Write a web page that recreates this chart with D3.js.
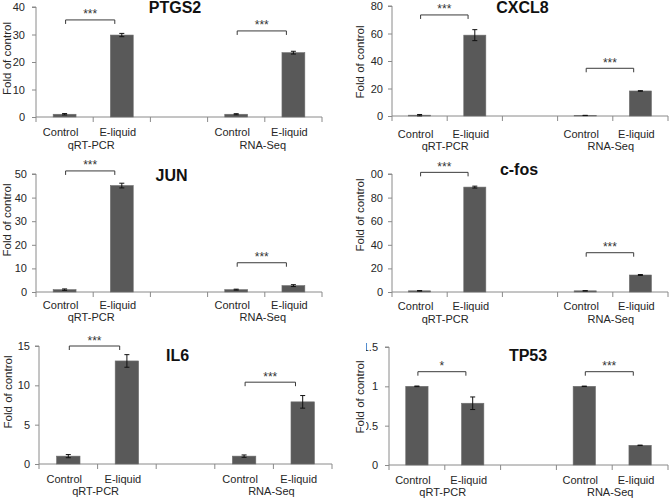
<!DOCTYPE html>
<html>
<head>
<meta charset="utf-8">
<script src="https://cdn.jsdelivr.net/npm/d3@7"></script>
<style>
  html, body { margin: 0; padding: 0; background: #fff; }
  svg { display: block; font-family: "Liberation Sans", Arial, sans-serif; }
</style>
</head>
<body>
<svg id="chart" width="670" height="504"></svg>
<script>
// ---------- data ----------
const genes = ["PTGS2", "CXCL8", "JUN", "c-fos", "IL6", "TP53"];
const conditions = ["Control", "E-liquid"];
const methods = ["qRT-PCR", "RNA-Seq"];
// values per gene: [qRT Control, qRT E-liquid, RNA Control, RNA E-liquid]
const ptgs2Values = [1.0, 29.8, 1.0, 23.4];
const cxcl8Values = [0.6, 58.8, 0.4, 18.2];
const junValues   = [1.0, 45.1, 1.0, 2.7];
const cfosValues  = [1.0, 88.9, 1.0, 14.4];
const il6Values   = [1.0, 13.1, 1.0, 7.9];
const tp53Values  = [1.0, 0.785, 1.0, 0.25];
const ptgs2Errors = [0.25, 0.6, 0.2, 0.5];
const cxcl8Errors = [0.5, 4.0, 0.1, 0.2];
const junErrors   = [0.3, 1.0, 0.2, 0.4];
const cfosErrors  = [0.2, 0.8, 0.1, 0.4];
const il6Errors   = [0.2, 0.8, 0.15, 0.8];
const tp53Errors  = [0.004, 0.08, 0.003, 0.003];
const yMaxValues  = [40, 80, 50, 100, 15, 1.5];
const yTickSteps  = [10, 20, 10, 20, 5, 0.5];
const sigLabels   = [["***", "***"], ["***", "***"], ["***", "***"], ["***", "***"], ["***", "***"], ["*", "***"]];
const sigLevels   = [[35.3, 31.3], [73.5, 34.7], [51.3, 12.4], [101.4, 33.3], [15.0, 10.4], [1.186, 1.186]];

const allValues = [ptgs2Values, cxcl8Values, junValues, cfosValues, il6Values, tp53Values];
const allErrors = [ptgs2Errors, cxcl8Errors, junErrors, cfosErrors, il6Errors, tp53Errors];

// ---------- layout ----------
const layout = [
  {x0: 36,  x1: 322, y0: 117, y1: 7,   tx: 175,   ty: 12.5,  lx: 7,   ly: 58.5, catY: 136, grpY: 149, gap: 11, clipX: null},
  {x0: 392, x1: 668, y0: 116, y1: 6,   tx: 522.5, ty: 13,    lx: 360, ly: 62,   catY: 138, grpY: 150, gap: 9,  clipX: null},
  {x0: 36,  x1: 322, y0: 292, y1: 174, tx: 171.5, ty: 181,   lx: 7,   ly: 220,  catY: 309, grpY: 321, gap: 9,  clipX: null},
  {x0: 392, x1: 668, y0: 292, y1: 174, tx: 519,   ty: 175,   lx: 360, ly: 215,  catY: 310, grpY: 323, gap: 9,  clipX: 370.5},
  {x0: 39,  x1: 332, y0: 464, y1: 346, tx: 177.5, ty: 360.7, lx: 8,   ly: 392,  catY: 483, grpY: 495, gap: 9,  clipX: null},
  {x0: 389, x1: 668, y0: 465, y1: 347, tx: 528,   ty: 360.7, lx: 360, ly: 397,  catY: 484, grpY: 496, gap: 11, clipX: 366}
];

const axisColor = "#8a8a8a";
const barColor = "#595959";
const textColor = "#262626";

const svg = d3.select("#chart");
const defs = svg.append("defs");

const slotKeys = ["qC", "qE", "gap", "rC", "rE"];
const barSlots = ["qC", "qE", "rC", "rE"];

genes.forEach((gene, gi) => {
  const L = layout[gi];
  const g = svg.append("g");
  const x = d3.scaleBand().domain(slotKeys).range([L.x0, L.x1]).padding(0);
  const bw = x.bandwidth();
  const y = d3.scaleLinear().domain([0, yMaxValues[gi]]).range([L.y0, L.y1]);
  const ticks = d3.range(0, yMaxValues[gi] + yTickSteps[gi] / 2, yTickSteps[gi]);

  // y axis
  const yAxis = d3.axisLeft(y).tickValues(ticks).tickSize(4).tickPadding(L.gap - 4)
    .tickFormat(d => d3.format("~g")(d));
  const ya = g.append("g").attr("transform", `translate(${L.x0},0)`).call(yAxis);
  ya.select(".domain").attr("stroke", axisColor).attr("d", `M-4,${L.y1}H0V${L.y0}`);
  ya.selectAll(".tick line").attr("stroke", axisColor);
  ya.selectAll(".tick text").attr("fill", textColor).style("font-size", "11px")
    .style("font-family", "'Liberation Sans', Arial, sans-serif");
  if (L.clipX !== null) {
    const id = "clip" + gi;
    defs.append("clipPath").attr("id", id).attr("clipPathUnits", "userSpaceOnUse").append("rect")
      .attr("x", L.clipX - L.x0).attr("y", L.y1 - 20).attr("width", 60).attr("height", L.y0 - L.y1 + 40);
    ya.attr("clip-path", `url(#${id})`);
  }

  // x axis line + boundary ticks
  g.append("line").attr("x1", L.x0).attr("x2", L.x1).attr("y1", L.y0).attr("y2", L.y0)
    .attr("stroke", axisColor).attr("stroke-width", 1);
  g.selectAll(".xt").data(d3.range(0, slotKeys.length + 1)).join("line")
    .attr("x1", i => L.x0 + i * bw).attr("x2", i => L.x0 + i * bw)
    .attr("y1", L.y0).attr("y2", L.y0 + 5)
    .attr("stroke", axisColor);

  // bars
  const vals = allValues[gi], errs = allErrors[gi];
  const barW = bw * 0.4;
  g.selectAll(".bar").data(barSlots).join("rect")
    .attr("x", (s) => x(s) + (bw - barW) / 2)
    .attr("width", barW)
    .attr("y", (s, i) => y(vals[i]))
    .attr("height", (s, i) => L.y0 - y(vals[i]))
    .attr("fill", barColor)
    .attr("stroke", "#6e6e6e").attr("stroke-width", 0.6);

  // error bars
  const eg = g.append("g").attr("stroke", "#111").attr("stroke-width", 1);
  barSlots.forEach((s, i) => {
    const cx = x(s) + bw / 2;
    const lo = y(vals[i] - errs[i]), hi = y(vals[i] + errs[i]);
    eg.append("line").attr("x1", cx).attr("x2", cx).attr("y1", lo).attr("y2", hi);
    eg.append("line").attr("x1", cx - 2.5).attr("x2", cx + 2.5).attr("y1", hi).attr("y2", hi);
    eg.append("line").attr("x1", cx - 2.5).attr("x2", cx + 2.5).attr("y1", lo).attr("y2", lo);
  });

  // category labels
  barSlots.forEach((s, i) => {
    g.append("text").attr("x", x(s) + bw / 2 - 4).attr("y", L.catY)
      .attr("text-anchor", "middle").attr("fill", textColor).style("font-size", "11px")
      .text(conditions[i % 2]);
  });
  methods.forEach((m, mi) => {
    const cx = mi === 0 ? x("qE") : x("rE");
    g.append("text").attr("x", cx - 2).attr("y", L.grpY)
      .attr("text-anchor", "middle").attr("fill", textColor).style("font-size", "11px")
      .text(m);
  });

  // significance brackets
  [["qC"], ["rC"]].forEach((arr, bi) => {
    const sx = x(arr[0]) + bw / 2 + 1;
    const ex = sx + bw * 0.86;
    const by = y(sigLevels[gi][bi]);
    g.append("path")
      .attr("d", `M${sx},${by + 4}V${by}H${ex}V${by + 4}`)
      .attr("fill", "none").attr("stroke", "#3a3a3a").attr("stroke-width", 1);
    g.append("text").attr("x", (sx + ex) / 2).attr("y", by - 1.5)
      .attr("text-anchor", "middle").attr("fill", "#333").style("font-size", "12px")
      .text(sigLabels[gi][bi]);
  });

  // title
  g.append("text").attr("x", L.tx).attr("y", L.ty).attr("text-anchor", "middle")
    .attr("fill", "#111").style("font-size", "16px").style("font-weight", "bold")
    .text(gene);

  // y label
  g.append("text").attr("transform", `translate(${L.lx},${L.ly}) rotate(-90)`)
    .attr("text-anchor", "middle").attr("dominant-baseline", "central")
    .attr("fill", textColor).style("font-size", "11.5px")
    .text("Fold of control");
});
</script>
</body>
</html>
